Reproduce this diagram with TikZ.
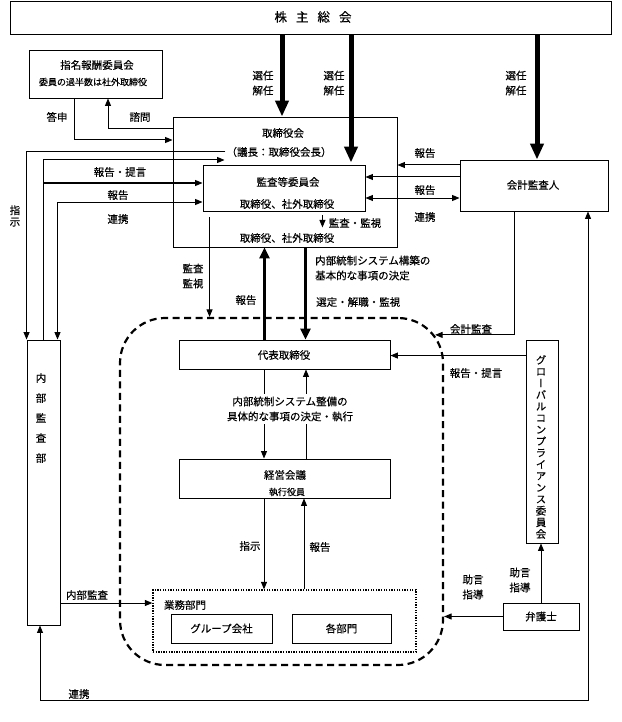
\documentclass[tikz,border=0pt]{standalone}
\usepackage{fontspec}
\setmainfont{Noto Sans CJK JP}[FakeBold=0.35]
\newfontfamily\jvert{Noto Sans CJK JP}[RawFeature=+vert,FakeBold=0.35]
\usetikzlibrary{arrows.meta,calc}
\tikzset{
  jbox/.style={draw,line width=0.9pt,inner sep=0pt},
  jtxt/.style={font=\fontsize{10.5}{15}\selectfont,inner sep=1pt,align=center},
  jtxtS/.style={font=\fontsize{9}{10}\selectfont,inner sep=1pt},
  jtxtL/.style={font=\fontsize{12.5}{14}\selectfont,inner sep=1pt},
  jarr/.style={line width=1pt,-{Triangle[length=7.5pt,width=6pt]}},
  jarrB/.style={line width=1pt,{Triangle[length=7.5pt,width=6pt]}-{Triangle[length=7.5pt,width=6pt]}},
  jthick/.style={line width=3.5pt,-{Triangle[length=11pt,width=10pt]}},
  jfat/.style={line width=5pt,-{Triangle[length=16pt,width=13pt]}},
  jdash/.style={draw,line width=2.2pt,dash pattern=on 7pt off 4.5pt,rounded corners=45pt},
  jdot/.style={draw,line width=1.3pt,dash pattern=on 1.3pt off 1.3pt},
}
\begin{document}
\begin{tikzpicture}[x=1pt,y=-1pt]
\useasboundingbox (0,0) rectangle (621,722);
%% control area (dashed), then the boxes; coordinates are pixels of the sheet
\node[jdash,minimum width=323,minimum height=347] (ctl) at (281.5,491.5) {};
\node[jbox,minimum width=601,minimum height=33] (sh) at (310.5,17.5) {};
\node[jbox,minimum width=133,minimum height=48] (nom) at (95.5,74) {};
\node[jbox,minimum width=224,minimum height=130] (bod) at (285,182) {};
\node[jbox,minimum width=162,minimum height=46] (acm) at (284,188) {};
\node[jbox,minimum width=148,minimum height=51] (aud) at (534,185.5) {};
\node[jbox,minimum width=33,minimum height=285] (ia) at (43.5,482.5) {};
\node[jbox,minimum width=211,minimum height=29] (ceo) at (284.5,354.5) {};
\node[jbox,minimum width=211,minimum height=39] (mgm) at (284.5,478.5) {};
\node[jbox,minimum width=32,minimum height=203] (gcc) at (542,441.5) {};
\node[jdot,minimum width=263,minimum height=62] (ops) at (284.5,621) {};
\node[jbox,jtxt,minimum width=101,minimum height=29] (grp) at (221.5,628.5) {グループ会社};
\node[jbox,jtxt,minimum width=99,minimum height=29] (dept) at (341.5,628.5) {各部門};
\node[jbox,jtxt,minimum width=76,minimum height=27] (law) at (541,616.5) {弁護士};
% box texts
\node[jtxtL] (shT) at (313,17) {株\hspace{9pt}主\hspace{9pt}総\hspace{9pt}会};
\node[jtxt] (nomT) at (97,65) {指名報酬委員会};
\node[jtxtS] (nomS) at (93,82) {委員の過半数は社外取締役};
\node[jtxt] (bodT) at (283,133) {取締役会};
\node[jtxt] (chair) at (279,152) {（議長：取締役会長）};
\node[jtxt] (acmT) at (288,182) {監査等委員会};
\node[jtxt] (acmS) at (287,204) {取締役、社外取締役};
\node[jtxt] (acmM) at (355,223) {監査・監視};
\node[jtxt] (bodS) at (287,238) {取締役、社外取締役};
\node[jtxt] (audT) at (533,185) {会計監査人};
\node[jtxt,font=\fontsize{10.5}{20}\selectfont] (iaT) at (41,418) {内\\部\\監\\査\\部};
\node[jtxt] (ceoT) at (284,355) {代表取締役};
\node[jtxt] (mgmT) at (285,475) {経営会議};
\node[jtxtS] (mgmS) at (287,492) {執行役員};
\node[jtxt] (opsT) at (185,605) {業務部門};
\node[jtxt,font={\jvert\fontsize{10.5}{11.6}\selectfont}] (gccT) at (541,447)
  {グ\\ロ\\ー\\バ\\ル\\コ\\ン\\プ\\ラ\\イ\\ア\\ン\\ス\\委\\員\\会};
% ---- shareholders elect the board, the committee and the auditor
\coordinate (bodIn) at ($(bod.north)+(-3,0)$);
\coordinate (acmIn) at ($(acm.north)+(67,-2)$);
\coordinate (audIn) at ($(aud.north)+(3,0)$);
\draw[jfat] (sh.south -| bodIn) -- (bodIn);
\draw[jfat] (sh.south -| acmIn) -- (acmIn);
\draw[jfat] (sh.south -| audIn) -- (audIn);
\node[jtxt] (sel1) at (263,83) {選任\\解任};
\node[jtxt] (sel2) at (334,83) {選任\\解任};
\node[jtxt] (sel3) at (516,83) {選任\\解任};
% ---- nomination committee
\draw[jarr] ($(nom.south)+(-21.5,0)$) |- ($(bod.west)+(0,-42)$);
\draw[jarr] ($(bod.west)+(0,-53)$) -| ($(nom.south)+(12.5,0)$);
\node[jtxt] (toshin) at (57,117) {答申};
\node[jtxt] (shimon) at (140,117) {諮問};
% ---- internal audit dept on the left
\coordinate (acmL1) at ($(acm.west)+(0,-5)$);
\coordinate (acmL2) at ($(acm.west)+(0,14)$);
\draw[jarr] (chair.west) -| (ia.north west);
\draw[jarr] (ia.north) |- ($(bod.west)+(52,-22)$);
\draw[jarr] (ia.north |- acmL1) -- (acmL1);
\draw[jarrB] (acmL2) -| ($(ia.north)+(14,0)$);
\node[jtxt,font=\fontsize{10.5}{11.5}\selectfont] (shiji) at (15,216) {指\\示};
\node[jtxt] (rep1) at (120,172) {報告・提言};
\node[jtxt] (rep2) at (118,195) {報告};
\node[jtxt] (ren1) at (118,219) {連携};
% ---- accounting auditor on the right
\coordinate (audL1) at ($(aud.west)+(0,-20.5)$);
\coordinate (audL2) at ($(aud.west)+(0,-8.5)$);
\coordinate (audL3) at ($(aud.west)+(0,12.5)$);
\draw[jarr] (audL1) -- (audL1 -| bod.east);
\draw[jarr] (audL2) -- (audL2 -| acm.east);
\draw[jarrB] (audL3 -| acm.east) -- (audL3);
\node[jtxt] (rep3) at (425,153) {報告};
\node[jtxt] (rep4) at (425,190) {報告};
\node[jtxt] (ren2) at (425,217) {連携};
\draw[jarr] ($(acm.south east)+(-43,4)$) -- ($(acm.south east)+(-43,16)$);
\coordinate (ccA) at ($(ctl.north east)+(-9,18)$);
\draw[jarr] ($(aud.south)+(-20,0)$) |- (ccA);
\node[jtxt] (kaikei) at (471,329) {会計監査};
% ---- board <-> representative director
\coordinate (kanS) at ($(acm.south west)+(7,6)$);
\coordinate (ceoU1) at ($(ceo.north)+(-20,0)$);
\coordinate (ceoU2) at ($(ceo.north)+(21,0)$);
\draw[jarr] (kanS) -- (kanS |- ctl.north);
\node[jtxt] (kansa) at (193,276) {監査\\監視};
\draw[jthick] (ceoU1) -- (ceoU1 |- bod.south);
\draw[jthick] (ceoU2 |- bod.south) -- (ceoU2);
\node[jtxt] (rep5) at (246,300) {報告};
\node[jtxt,anchor=west,align=left] (kihon) at (314,268) {内部統制システム構築の\\基本的な事項の決定};
\node[jtxt,anchor=west] (sentei) at (315,302) {選定・解職・監視};
% ---- inside the control area
\coordinate (ceoD1) at ($(ceo.south)+(-20.5,0)$);
\coordinate (ceoD2) at ($(ceo.south)+(21.5,0)$);
\coordinate (mgmD1) at ($(mgm.south)+(-20.5,0)$);
\coordinate (mgmD2) at ($(mgm.south)+(19.5,0)$);
\draw[jarr] (ceoD1) -- (ceoD1 |- mgm.north);
\draw[jarr] (ceoD2 |- mgm.north) -- (ceoD2);
\node[jtxt,fill=white,inner sep=3pt] (seibi) at (290,409) {内部統制システム整備の\\具体的な事項の決定・執行};
\draw[jarr] (mgmD1) -- (mgmD1 |- ops.north);
\draw[jarr] (mgmD2 |- ops.north) -- (mgmD2);
\node[jtxt] (shiji2) at (250,546) {指示};
\node[jtxt] (rep7) at (320,547) {報告};
\coordinate (gccL) at ($(gcc.north west)+(0,16)$);
\draw[jarr] (gccL) -- (gccL -| ceo.east);
\node[jtxt] (rep6) at (476,373) {報告・提言};
% ---- internal audit, lawyer, bottom liaison
\coordinate (opsL) at ($(ops.west)+(0,-18)$);
\draw[jarr] (opsL -| ia.east) -- (opsL);
\node[jtxt] (naibu) at (87,595) {内部監査};
\draw[jarr] (law.west) -- (law.west -| ctl.east);
\draw[jarr] (law.north) -- (law.north |- gcc.south);
\node[jtxt] (jogen1) at (473,587) {助言\\指導};
\node[jtxt] (jogen2) at (520,580) {助言\\指導};
\coordinate (lowR) at ($(aud.south)+(54,489)$);
\draw[jarrB] ($(ia.south)+(-3.5,0)$) |- (lowR) -- ($(aud.south)+(54,0)$);
\node[jtxt] (ren3) at (79,694) {連携};
\end{tikzpicture}
\end{document}
